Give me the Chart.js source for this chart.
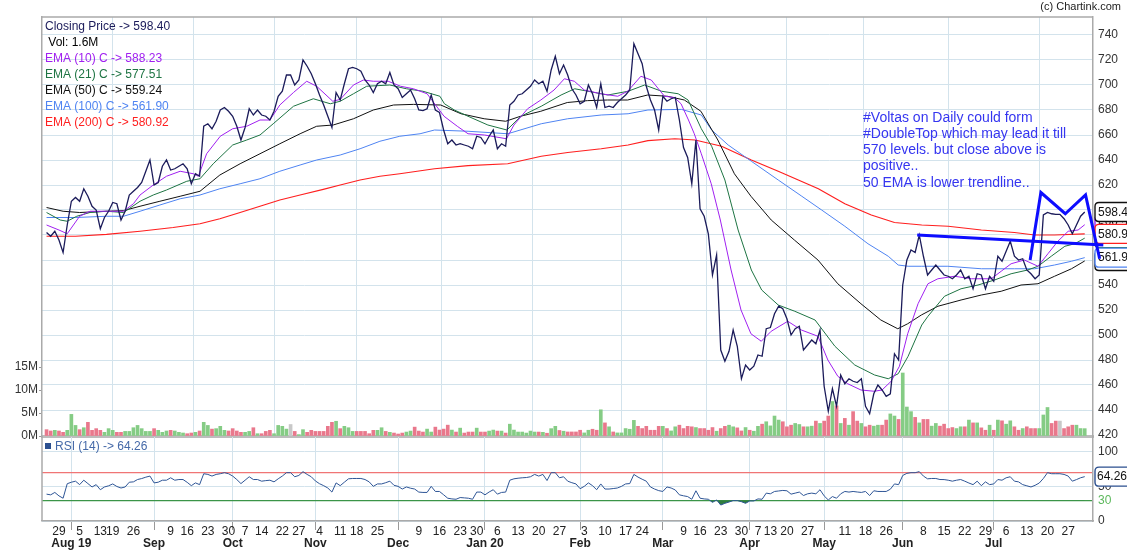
<!DOCTYPE html>
<html><head><meta charset="utf-8">
<script src="https://cdn.jsdelivr.net/npm/chart.js@4.4.1/dist/chart.umd.min.js"></script>
<style>
html,body{margin:0;padding:0;background:#fff;}
#wrap{position:relative;width:1127px;height:551px;overflow:hidden;}
#c1{position:absolute;left:0;top:0;}
#c2{position:absolute;left:0;top:436px;}
</style></head><body>
<div id="wrap">
<canvas id="c1" width="1127" height="446"></canvas>
<canvas id="c2" width="1127" height="115"></canvas>
</div>
<script>
// ---------------- DATA ----------------
const tradingDays = [
"2019-07-24","2019-07-25","2019-07-26","2019-07-29","2019-07-30","2019-07-31",
"2019-08-01","2019-08-02","2019-08-05","2019-08-06","2019-08-07","2019-08-08","2019-08-09","2019-08-13","2019-08-14","2019-08-16","2019-08-19","2019-08-20","2019-08-21","2019-08-22","2019-08-23","2019-08-26","2019-08-27","2019-08-28","2019-08-29","2019-08-30",
"2019-09-03","2019-09-04","2019-09-05","2019-09-06","2019-09-09","2019-09-11","2019-09-12","2019-09-13","2019-09-16","2019-09-17","2019-09-18","2019-09-19","2019-09-20","2019-09-23","2019-09-24","2019-09-25","2019-09-26","2019-09-27","2019-09-30",
"2019-10-01","2019-10-03","2019-10-04","2019-10-07","2019-10-09","2019-10-10","2019-10-11","2019-10-14","2019-10-15","2019-10-16","2019-10-17","2019-10-18","2019-10-22","2019-10-23","2019-10-24","2019-10-25","2019-10-27","2019-10-29","2019-10-30","2019-10-31",
"2019-11-01","2019-11-04","2019-11-05","2019-11-06","2019-11-07","2019-11-08","2019-11-11","2019-11-13","2019-11-14","2019-11-15","2019-11-18","2019-11-19","2019-11-20","2019-11-21","2019-11-22","2019-11-25","2019-11-26","2019-11-27","2019-11-28","2019-11-29",
"2019-12-02","2019-12-03","2019-12-04","2019-12-05","2019-12-06","2019-12-09","2019-12-10","2019-12-11","2019-12-12","2019-12-13","2019-12-16","2019-12-17","2019-12-18","2019-12-19","2019-12-20","2019-12-23","2019-12-24","2019-12-26","2019-12-27","2019-12-30","2019-12-31",
"2020-01-01","2020-01-02","2020-01-03","2020-01-06","2020-01-07","2020-01-08","2020-01-09","2020-01-10","2020-01-13","2020-01-14","2020-01-15","2020-01-16","2020-01-17","2020-01-20","2020-01-21","2020-01-22","2020-01-23","2020-01-24","2020-01-27","2020-01-28","2020-01-29","2020-01-30","2020-01-31",
"2020-02-01","2020-02-03","2020-02-04","2020-02-05","2020-02-06","2020-02-07","2020-02-10","2020-02-11","2020-02-12","2020-02-13","2020-02-14","2020-02-17","2020-02-18","2020-02-19","2020-02-20","2020-02-24","2020-02-25","2020-02-26","2020-02-27","2020-02-28",
"2020-03-02","2020-03-03","2020-03-04","2020-03-05","2020-03-06","2020-03-09","2020-03-11","2020-03-12","2020-03-13","2020-03-16","2020-03-17","2020-03-18","2020-03-19","2020-03-20","2020-03-23","2020-03-24","2020-03-25","2020-03-26","2020-03-27","2020-03-30","2020-03-31",
"2020-04-01","2020-04-03","2020-04-07","2020-04-08","2020-04-09","2020-04-13","2020-04-15","2020-04-16","2020-04-17","2020-04-20","2020-04-21","2020-04-22","2020-04-23","2020-04-24","2020-04-27","2020-04-28","2020-04-29","2020-04-30",
"2020-05-04","2020-05-05","2020-05-06","2020-05-07","2020-05-08","2020-05-11","2020-05-12","2020-05-13","2020-05-14","2020-05-15","2020-05-18","2020-05-19","2020-05-20","2020-05-21","2020-05-22","2020-05-26","2020-05-27","2020-05-28","2020-05-29",
"2020-06-01","2020-06-02","2020-06-03","2020-06-04","2020-06-05","2020-06-08","2020-06-09","2020-06-10","2020-06-11","2020-06-12","2020-06-15","2020-06-16","2020-06-17","2020-06-18","2020-06-19","2020-06-22","2020-06-23","2020-06-24","2020-06-25","2020-06-26","2020-06-29","2020-06-30",
"2020-07-01","2020-07-02","2020-07-03","2020-07-06","2020-07-07","2020-07-08","2020-07-09","2020-07-10","2020-07-13","2020-07-14","2020-07-15","2020-07-16","2020-07-17","2020-07-20","2020-07-21","2020-07-22","2020-07-23","2020-07-24","2020-07-27","2020-07-28","2020-07-29","2020-07-30","2020-07-31"
];

const closePrice = [
582,579,583,576,566,588,607,610,607,617,611,603,600,585,594,599,606,605,592,599,
612,615,618,622,631,640,620,622,635,640,632,633,635,637,633,621,629,627,667,669,
665,671,680,682,679,675,667,656,666,681,676,680,676,675,672,679,691,695,708,708,
700,704,720,715,709,701,692,684,675,666,694,688,701,713,714,713,711,704,700,694,
701,703,701,710,700,697,690,693,696,689,680,679.5,681,692,680,678,664,653,656,652,
653,652,651,649,659,658,653,659,664,649,653,651,684,687,692,693,696,699,704,701,
703,695,712,723,709,716,708,697,692,685,687,700,693,682,701,682,683,682,686,689,
692,696,733,725,717,699,688,680,664,691,687,689,690,672,650,642,621,656,601,595,
581,548,564,488,479,487,504,491,465,476,472,475,484,483,505,506,517,523,521,513,
500,505,507,488,492,496,493,504,459,439,457,443,468,461,465,463,462,465,443,437,
453,460,456,451,453,485,480,540,560,568,566,580,563,548,552,556,552,548,547,545,
548,552,545,547,537,549,548,537,547,543,563,559,567,575,563,560,561,552,549,545,
548,596,598,597,596.5,596.5,593,588,581,588,595,598.4
];

// volume in millions
const volumeM = [
1.38,1.09,1.23,1.09,0.8,1.23,4.7,2.3,1.38,1.8,2.97,1.23,1.6,1.23,0.8,1.6,1.23,0.8,0.8,1.0,
1.0,1.8,2.3,1.6,1.0,1.0,1.6,1.23,0.8,1.09,1.23,1.09,0.8,0.65,0.5,0.65,0.8,1.09,2.97,2.3,
1.5,1.6,2.1,1.23,1.09,1.6,1.09,0.8,0.8,1.0,1.8,0.5,0.5,1.0,1.23,0.5,2.3,2.1,1.5,2.5,
1.0,0.3,1.38,0.8,1.23,1.0,1.0,1.0,2.1,2.97,3.2,1.6,2.1,1.8,1.0,1.0,1.0,1.0,0.5,1.23,
1.23,1.8,1.0,0.8,0.64,0.43,0.64,0.86,1.07,1.93,1.07,0.86,1.5,0.86,1.93,1.29,1.5,2.36,1.29,0.86,
1.71,0.64,0.86,0.86,1.71,0.86,0.86,1.07,1.29,1.07,1.07,0.64,2.57,1.29,0.86,0.86,0.64,1.07,0.86,0.86,
0.8,0.6,1.6,2.1,1.2,1.04,0.88,0.88,0.88,1.25,0.67,1.25,1.47,1.25,5.7,2.85,2.0,0.88,0.67,0.67,
1.62,1.47,3.4,2.1,1.62,2.1,1.25,1.25,2.1,2.1,1.62,1.1,2.0,2.35,1.62,2.1,2.0,1.84,1.62,1.62,
1.25,1.84,1.04,1.62,2.1,2.35,2.0,1.77,1.1,1.84,1.25,1.04,2.1,2.57,3.1,2.2,4.34,3.46,3.1,2.0,
2.35,2.73,2.5,2.0,2.0,2.14,3.24,2.73,3.24,4.34,7.5,6.55,2.73,3.83,2.35,5.3,3.24,2.73,2.0,2.35,
2.14,2.35,2.35,3.46,4.8,4.34,3.6,13.7,6.3,5.3,4.05,2.85,3.6,3.6,2.14,2.73,2.14,2.57,1.62,1.84,
1.62,2.0,2.0,3.46,2.85,2.85,1.77,1.25,2.35,1.25,3.46,3.3,2.57,3.3,2.0,1.25,1.62,2.0,1.62,1.62,
1.62,4.57,6.2,2.73,3.24,3.24,1.62,2.0,2.35,2.35,1.62,1.6
];

const rsi14 = [
38.9,37.9,41.4,36.4,33.0,54,56.2,57.7,52.7,59.1,54.2,49.3,52.7,45.3,49.3,51,53.7,50,47.8,49.3,
56.2,56.7,60.1,61.5,63.5,65.1,55.2,56.2,59.1,59.1,62.6,59.1,60.1,60.1,56,51.2,55.2,52.7,68.5,67.5,
65.1,67.5,68.5,70,68.5,65.1,60,54.2,59.1,64.1,60.1,60.1,57.7,58.5,59.1,56.7,61.1,65.1,70,70,
64.1,66,71.5,67.5,64.1,58,54,51.2,47.8,41.9,55.2,51.2,56.2,61.1,61.6,61.6,61.6,60.1,56.7,50.2,
53.7,53.7,55.5,57.7,51.7,50.2,46.3,49.3,47.5,46.3,41.9,41.4,41.4,50.2,42.8,42.8,38,33,32,31.5,
34,33.5,33,31.5,41.9,41.9,37.9,42,45.3,38.9,41.4,41.9,59.1,61.1,62,62.6,63,64.1,67.5,65.1,
67.5,58.6,70,70,62.6,64.1,57.7,55.5,53.7,46.8,50.2,55.2,51.2,45.3,53.7,46.3,46.3,47,47.8,50.2,
53.7,54.2,67.5,63.6,60.5,57.7,49.3,46.3,44,42.8,49.3,47.8,45,37.9,36.5,35.4,31.5,43.8,33,32,
31.5,27,30.5,23.1,25.6,27.5,29.5,29.5,28,25.6,29,29,32,31.5,40.4,39.4,42.8,43.5,44.3,43.8,
38.9,40.4,41.9,36.9,39.4,40.4,39.4,45.3,36.4,30.5,35.4,33,39.4,42.8,41.9,42.8,42,41.4,42.8,36.9,
43.8,42.8,42.8,42.8,46,53.7,52.7,66,69,70,70,71.5,65.1,61.1,61.6,61.6,60.1,60,59.1,57.7,
59.1,60.1,57.7,55,52.7,57.7,51.2,56.7,52.7,53.7,60.1,59.1,62.6,64.1,57.7,56.7,52.7,51,49.3,51.7,
55,61.6,70,68.5,68.5,68.5,67.5,65.1,57.7,60,62.6,64.26
];

// EMA lines read as [day index, value] pairs
const ema10Pts = [[0,588],[3,584],[5,581],[8,595],[10.5,599],[14.5,599],[18.6,599],[21,605],[22.6,612],[25.8,620],[29,627],[32.3,631],[35.5,629],[36.7,627],[38.7,645],[42,659],[45,665],[48.4,667],[51.6,672],[54,672],[56.4,684],[59.7,694],[62.9,703],[65.3,699],[69.2,687],[71,688.5],[74.2,700],[76.6,704],[79,703],[82.6,703],[85.6,699],[88.7,697],[92,693],[96.1,675],[99.3,667],[101.9,661],[105.9,660],[111.2,657],[113,668],[116.3,681],[119.5,688],[122.7,696],[125.2,705],[127.6,703],[130,696],[134,693],[138.1,691],[140.5,695],[143.7,707],[146.2,704],[149.4,691],[151.8,690],[153.4,685],[155.2,672],[156.6,661],[158.3,645],[160.7,621],[162.9,592],[165.5,552],[167.9,520],[170.3,501],[172.8,495],[175.2,503],[179.2,511],[182.5,504],[186.5,499],[188.9,480],[191.3,467],[193.7,461],[196.9,456],[200.1,455],[202,456],[204.2,463],[206.2,475],[208.2,501],[210.7,525],[213.1,541],[215.5,545],[219.5,547],[223.6,545],[228.4,545],[230.8,551],[233.2,557],[236.4,560],[239.7,555],[242.1,565],[244.5,575],[247,583],[249.4,584],[251,588.23]];
const ema21Pts = [[0,598],[3.3,592],[5,591],[7.3,595],[10.5,598],[14.5,599],[18.6,598],[22.6,607],[25.8,612],[29,616],[33.9,623],[37.1,625],[40.3,637],[45,652],[48.4,656],[51.6,660],[54.8,669],[59.7,683],[64.5,689],[68.6,685],[71,687],[74.2,693],[77.4,699],[83,700],[87,697],[91,695],[95.1,691],[96.2,685],[98.6,680],[101.9,675],[106.7,668],[111.3,664],[114.7,675],[119.6,683],[124.4,692],[127.7,697],[130.9,695],[135.7,692],[140.6,695],[144.6,700],[148.7,695],[152.7,693],[155.1,688],[158.3,665],[160.8,651],[164,624],[167.2,584],[170.4,552],[172.9,536],[176.9,524],[180.9,519],[185.8,512],[190.6,491],[195.4,476],[200.2,468],[203.5,465],[205.9,469],[208.3,483],[211.6,508],[213.1,515],[217.1,531],[221.1,537],[225.2,540],[229.2,544],[233.2,549],[237.2,552],[239.7,555],[242.9,563],[246.2,571],[248.6,573],[251,577.51]];
const ema50Pts = [[0,602],[4,599],[8,598],[14.5,599],[18.6,599.5],[22.6,603],[27.4,607],[32.3,611],[37.1,615],[41.9,628],[46.8,637],[51.6,645],[56.4,653],[61.3,661],[65.3,667],[69.3,668],[74.2,673],[79,680],[83.9,684],[88.7,684.5],[95.3,684],[100.2,677],[105.8,673],[111,671],[114.6,675],[119.5,679],[125.9,686],[130.8,687.5],[135.6,688],[140.5,688],[145.3,692],[150.1,691],[154.2,688],[158.2,679],[162.3,656],[166.3,629],[170.3,611],[175.2,592],[180.8,576],[186.5,560],[191.3,541],[196.9,525],[201.7,512],[205.8,505],[208.2,509],[211.5,516],[215.5,523],[221.1,528],[226,532],[230.8,535],[235.6,540],[239.7,541],[243.7,547],[247.8,553],[251,559.24]];
const ema100Pts = [[0,594],[7,594],[14.5,595],[18.6,595],[22.6,599],[27.4,604],[32.3,609],[37.1,612],[41.9,617],[46.8,621],[51.6,625],[56.4,631],[61.3,636],[65.3,640],[71,644],[75.8,649],[80.6,655],[85.4,659],[90.3,661],[93.8,664],[101.9,663],[111.5,661],[119.6,669],[126,673],[134.1,676],[140.6,677],[145.4,680],[153.5,680.5],[158.3,676],[160.8,664],[164.8,652],[170.4,639],[176.9,624],[182.6,611],[187.4,600],[193,587],[198.6,573],[203.5,563],[205.9,556],[208.3,555],[211.6,555],[217.9,555],[226,553],[234,553],[238.9,553],[243.7,556],[247.8,559],[251,561.9]];
const ema200Pts = [[0,579],[7,579],[14.5,580.5],[22.6,583],[30.6,586],[37.1,589],[41.9,593],[46.8,598],[51.6,603],[56.4,608],[61.3,612],[66.9,616.5],[71,620],[75.8,624],[80.6,627],[85.4,629],[93.8,633],[101.9,635.5],[111.5,637],[119.6,643],[126,646],[134.1,649],[140.6,652],[145.4,655.5],[151.9,657],[156.8,656],[163.2,651],[170.4,640],[176.9,631],[186.6,617],[193,605],[199.4,596],[205,590],[211.6,588],[218,587],[226,584],[234,582],[238.9,580],[243.7,580],[251,580.92]];

// hand-drawn annotations: [day index, price]
const trendLine = [[210.5,580],[255.5,572]];
const doubleTopLine = [[237.8,560],[240.4,614],[246.3,597],[251.2,612],[254.6,561]];
const noteLines = ["#Voltas on Daily could form","#DoubleTop which may lead it till","570 levels. but close above is","positive..","50 EMA is lower trendline.."];
const noteAnchor = [197.4, 673.6];

const legendLabels = ["Closing Price -> 598.40"," Vol: 1.6M","EMA (10) C -> 588.23","EMA (21) C -> 577.51","EMA (50) C -> 559.24","EMA (100) C -> 561.90","EMA (200) C -> 580.92"];
const rsiLabel = "RSI (14) -> 64.26";
const priceTicks = [420,440,460,480,500,520,540,560,580,600,620,640,660,680,700,720,740];
const volumeTicks = [0,5,10,15];
const rsiTicks = [0,30,50,70,100];
const weekTickDates = ["2019-07-29","2019-08-05","2019-08-13","2019-08-19","2019-08-26","2019-09-09","2019-09-16","2019-09-23","2019-09-30","2019-10-07","2019-10-14","2019-10-22","2019-10-27","2019-11-04","2019-11-11","2019-11-18","2019-11-25","2019-12-09","2019-12-16","2019-12-23","2019-12-30","2020-01-06","2020-01-13","2020-01-20","2020-01-27","2020-02-03","2020-02-10","2020-02-17","2020-02-24","2020-03-09","2020-03-16","2020-03-23","2020-03-30","2020-04-07","2020-04-13","2020-04-20","2020-04-27","2020-05-11","2020-05-18","2020-05-26","2020-06-08","2020-06-15","2020-06-22","2020-06-29","2020-07-06","2020-07-13","2020-07-20","2020-07-27"];
const monthTicks = [["2019-08-01","Aug 19"],["2019-09-03","Sep"],["2019-10-01","Oct"],["2019-11-01","Nov"],["2019-12-02","Dec"],["2020-01-01","Jan 20"],["2020-02-01","Feb"],["2020-03-02","Mar"],["2020-04-01","Apr"],["2020-05-04","May"],["2020-06-01","Jun"],["2020-07-01","Jul"]];
// right-edge value boxes (drawn bottom first)
const valueBoxes = [[559.24,"559.2"],[577.51,"577.5"],[588.23,"588.2"],[561.90,"561.9"],[580.92,"580.9"],[598.40,"598.4"]];

// ---------------- STYLE ----------------
const FONT = '"Liberation Sans", Arial, Helvetica, sans-serif';
Chart.defaults.font.family = FONT;
Chart.defaults.font.size = 12;
Chart.defaults.color = '#333';
const GRID = '#d3e3ec';
const X_MIN = -1.1, X_MAX = 253;
const C = {close:'#1b1b5a', e10:'#a020f0', e21:'#1e7443', e50:'#111111', e100:'#4f84f2', e200:'#ff1f1f', note:'#3535f0', rsi:'#2e5596'};
const boxColors = {"559.2":'#111',"577.5":'#1e7443',"588.2":'#a020f0',"561.9":'#4f84f2',"580.9":'#ff1f1f',"598.4":'#111'};
const legendColors = [C.close,'#000',C.e10,C.e21,C.e50,C.e100,C.e200];

const monthIdx = monthTicks.map(m => tradingDays.indexOf(m[0]));
const monthName = new Map(monthTicks.map(m => [tradingDays.indexOf(m[0]), m[1]]));
const weekIdx = weekTickDates.map(d => tradingDays.indexOf(d));

const toXY = arr => arr.map((v,i) => ({x:i, y:v}));
const pairs = arr => arr.map(p => ({x:p[0], y:p[1]}));
const volColors = closePrice.map((v,i) => {
  if (i === 0) return '#e9788c';
  if (v > closePrice[i-1]) return '#85cc85';
  if (v < closePrice[i-1]) return '#e9788c';
  return '#c8c8c8';
});
const noPad = s => { s.paddingTop = 0; s.paddingBottom = 0; s.paddingLeft = 0; s.paddingRight = 0; };

function roundBox(ctx, x, y, w, h, r) {
  ctx.beginPath();
  ctx.moveTo(x+r, y); ctx.lineTo(x+w-r, y); ctx.quadraticCurveTo(x+w, y, x+w, y+r);
  ctx.lineTo(x+w, y+h-r); ctx.quadraticCurveTo(x+w, y+h, x+w-r, y+h);
  ctx.lineTo(x+r, y+h); ctx.quadraticCurveTo(x, y+h, x, y+h-r);
  ctx.lineTo(x, y+r); ctx.quadraticCurveTo(x, y, x+r, y); ctx.closePath();
}
function drawValueBox(ctx, x, y, text, color) {
  roundBox(ctx, x, y - 9.5, 36, 19, 4);
  ctx.fillStyle = '#fff'; ctx.fill();
  ctx.lineWidth = 1.4; ctx.strokeStyle = color; ctx.stroke();
  ctx.fillStyle = '#111'; ctx.font = '12px ' + FONT; ctx.textAlign = 'left'; ctx.textBaseline = 'middle';
  ctx.fillText(text, x + 3, y + 0.5);
}

const decorA = {
  id: 'decorA',
  beforeDatasetsDraw(chart) {
    const {ctx, chartArea: a, scales} = chart;
    ctx.save();
    valueBoxes.forEach(([v,t]) => drawValueBox(ctx, a.right + 2, scales.y.getPixelForValue(v), t, boxColors[t]));
    ctx.restore();
  },
  afterDraw(chart) {
    const {ctx, chartArea: a, scales} = chart;
    ctx.save();
    ctx.strokeStyle = '#aaa'; ctx.lineWidth = 1.5;
    ctx.beginPath(); ctx.moveTo(a.left, a.top); ctx.lineTo(a.right, a.top); ctx.stroke();
    ctx.font = '11px ' + FONT; ctx.fillStyle = '#222'; ctx.textAlign = 'right'; ctx.textBaseline = 'middle';
    ctx.fillText('(c) Chartink.com', 1121, 7);
    ctx.font = '12px ' + FONT; ctx.textAlign = 'left';
    legendLabels.forEach((t,k) => { ctx.fillStyle = legendColors[k]; ctx.fillText(t, a.left + 3, a.top + 9.5 + k*16); });
    ctx.font = '14px ' + FONT; ctx.fillStyle = C.note;
    const nx = scales.x.getPixelForValue(noteAnchor[0]), ny = scales.y.getPixelForValue(noteAnchor[1]);
    noteLines.forEach((t,k) => ctx.fillText(t, nx, ny + k*16.2));
    ctx.restore();
  }
};

const lineDs = (label, data, color, w, order) => ({type:'line', label, data, borderColor: color, borderWidth: w, pointRadius: 0, tension: 0, fill: false, yAxisID: 'y', order});

new Chart(document.getElementById('c1'), {
  type: 'line',
  data: {
    datasets: [
      {type:'line', label:'trend', data: pairs(trendLine), borderColor:'#0d0dff', borderWidth:3, pointRadius:0, yAxisID:'y', order:0, clip:false},
      {type:'line', label:'dtop', data: pairs(doubleTopLine), borderColor:'#0d0dff', borderWidth:3, pointRadius:0, yAxisID:'y', order:0, clip:false},
      lineDs('Close', toXY(closePrice), C.close, 1.3, 1),
      lineDs('EMA10', pairs(ema10Pts), C.e10, 1, 2),
      lineDs('EMA21', pairs(ema21Pts), C.e21, 1, 3),
      lineDs('EMA50', pairs(ema50Pts), C.e50, 1, 4),
      lineDs('EMA100', pairs(ema100Pts), C.e100, 1, 5),
      lineDs('EMA200', pairs(ema200Pts), C.e200, 1.2, 6),
      {type:'bar', label:'Vol', data: toXY(volumeM), backgroundColor: volColors, barThickness: 3, yAxisID:'yVol', order: 10}
    ]
  },
  options: {
    responsive: false, animation: false,
    layout: {padding: {top: 17, bottom: 10, left: 0, right: 0}, autoPadding: false},
    plugins: {legend: {display: false}, tooltip: {enabled: false}},
    scales: {
      x: {type:'linear', min: X_MIN, max: X_MAX, offset: false,
        afterBuildTicks: s => { s.ticks = monthIdx.map(v => ({value: v})); },
        afterFit: s => { s.height = 0; noPad(s); },
        ticks: {display: false},
        grid: {color: GRID, drawTicks: false},
        border: {display: true, color: '#bdbdbd', width: 3}},
      y: {position:'right', min: 419.2, max: 754.4,
        afterBuildTicks: s => { s.ticks = priceTicks.map(v => ({value: v})); },
        afterFit: s => { s.width = 34; noPad(s); },
        ticks: {padding: 5, color: '#333', font: {size: 12}},
        grid: {color: GRID, drawTicks: false},
        border: {display: true, color: '#aaa', width: 1.5}},
      yVol: {position:'left', min: 0, max: 91.1,
        afterBuildTicks: s => { s.ticks = volumeTicks.map(v => ({value: v})); },
        afterFit: s => { s.width = 42; noPad(s); },
        ticks: {padding: 1, color: '#333', font: {size: 12}, callback: v => v + 'M'},
        grid: {drawOnChartArea: false, drawTicks: true, tickLength: 3, tickColor: '#999'},
        border: {display: true, color: '#aaa', width: 1.5}}
    }
  },
  plugins: [decorA]
});

const decorB = {
  id: 'decorB',
  afterDraw(chart) {
    const {ctx, chartArea: a, scales} = chart;
    ctx.save();
    ctx.strokeStyle = '#aaa'; ctx.lineWidth = 1.5;
    ctx.beginPath(); ctx.moveTo(a.left, 0); ctx.lineTo(a.left, a.bottom); ctx.stroke();
    ctx.fillStyle = '#2b4f8f'; ctx.fillRect(a.left + 3, 7, 6, 6);
    ctx.font = '12px ' + FONT; ctx.fillStyle = '#4569a8'; ctx.textAlign = 'left'; ctx.textBaseline = 'middle';
    ctx.fillText(rsiLabel, a.left + 13, 10.5);
    const last = rsi14[rsi14.length - 1];
    roundBox(ctx, a.right + 2, scales.y.getPixelForValue(last) - 9.5, 36, 19, 4);
    ctx.fillStyle = '#fff'; ctx.fill(); ctx.lineWidth = 1.4; ctx.strokeStyle = '#2b4f8f'; ctx.stroke();
    ctx.fillStyle = '#111'; ctx.fillText(last.toFixed(2), a.right + 4, scales.y.getPixelForValue(last) + 0.5);
    ctx.restore();
  }
};

new Chart(document.getElementById('c2'), {
  type: 'line',
  data: {
    datasets: [{
      label: 'RSI', data: toXY(rsi14), borderColor: C.rsi, borderWidth: 1, pointRadius: 0, tension: 0,
      fill: {target: {value: 30}, above: 'rgba(0,0,0,0)', below: '#2f7d3f'}
    }]
  },
  options: {
    responsive: false, animation: false,
    layout: {padding: {top: 1, bottom: 0, left: 42, right: 0}, autoPadding: false},
    plugins: {legend: {display: false}, tooltip: {enabled: false}},
    scales: {
      x: {type:'linear', min: X_MIN, max: X_MAX, offset: false,
        afterBuildTicks: s => { s.ticks = [...weekIdx, ...monthIdx].sort((p,q) => p-q).map(v => ({value: v})); },
        afterFit: s => { s.height = 30; noPad(s); },
        ticks: {autoSkip: false, maxRotation: 0, minRotation: 0, padding: -4, color: '#222',
          callback: v => monthName.has(v) ? ['', monthName.get(v)] : String(parseInt(tradingDays[v].slice(8), 10)),
          font: c => ({family: FONT, size: 12, lineHeight: 1.0, weight: (c.tick && monthName.has(c.tick.value)) ? 'bold' : 'normal'})},
        grid: {drawTicks: true, tickLength: 9,
          color: c => (c.tick && monthName.has(c.tick.value)) ? GRID : 'rgba(0,0,0,0)',
          tickColor: c => (c.tick && monthName.has(c.tick.value)) ? '#999' : 'rgba(0,0,0,0)'},
        border: {display: true, color: '#aaa', width: 1.5}},
      y: {position:'right', min: 0, max: 121.7,
        afterBuildTicks: s => { s.ticks = rsiTicks.map(v => ({value: v})); },
        afterFit: s => { s.width = 34; noPad(s); },
        ticks: {padding: 5, font: {size: 12},
          callback: v => v === 70 ? '' : String(v),
          color: c => (c.tick && c.tick.value === 30) ? '#5cb85c' : '#333'},
        grid: {drawTicks: false,
          color: c => { const v = c.tick && c.tick.value; return v === 30 ? '#3f9a4a' : v === 70 ? '#f07575' : GRID; },
          lineWidth: c => { const v = c.tick && c.tick.value; return (v === 30 || v === 70) ? 1.3 : 1; }},
        border: {display: true, color: '#aaa', width: 1.5}}
    }
  },
  plugins: [decorB]
});
</script>
</body></html>
